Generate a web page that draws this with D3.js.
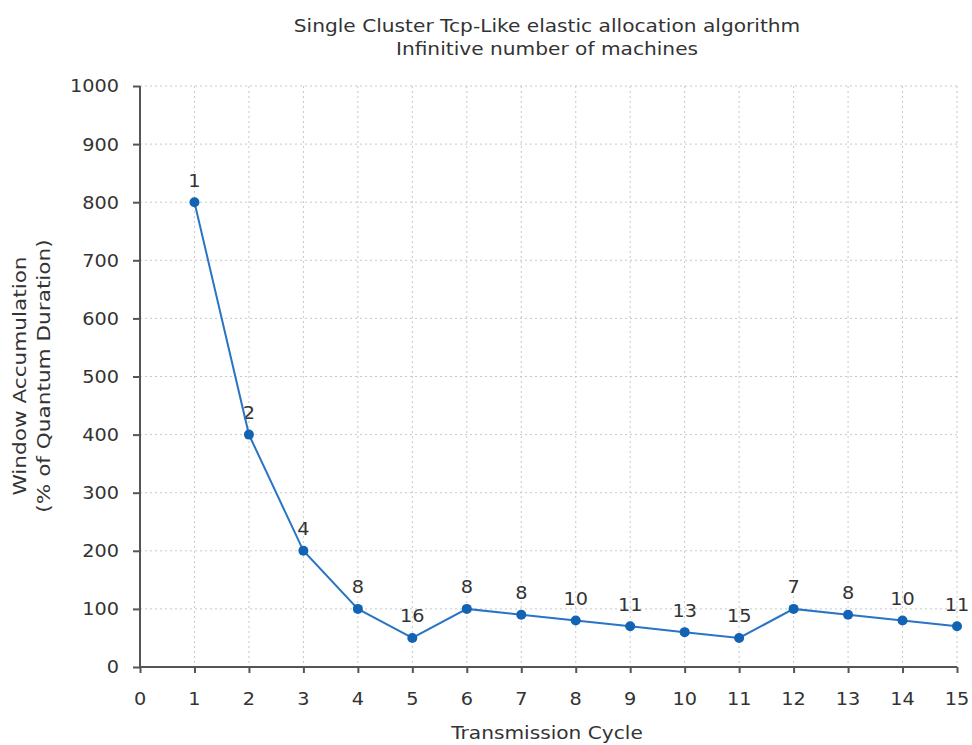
<!DOCTYPE html>
<html>
<head>
<meta charset="utf-8">
<script src="https://cdn.jsdelivr.net/npm/d3@7"></script>
<style>
  html, body { margin: 0; padding: 0; background: #fff; }
  svg { display: block; }
  text { font-family: "DejaVu Sans", sans-serif; fill: #333; }
</style>
</head>
<body>
<svg id="chart" width="972" height="745"></svg>
<script>
// ---- data ----
const cycles = [1, 2, 3, 4, 5, 6, 7, 8, 9, 10, 11, 12, 13, 14, 15];
const windowValues = [800, 400, 200, 100, 50, 100, 90, 80, 70, 60, 50, 100, 90, 80, 70];
const pointLabels = ["1", "2", "4", "8", "16", "8", "8", "10", "11", "13", "15", "7", "8", "10", "11"];
const xTicks = [0, 1, 2, 3, 4, 5, 6, 7, 8, 9, 10, 11, 12, 13, 14, 15];
const yTicks = [0, 100, 200, 300, 400, 500, 600, 700, 800, 900, 1000];
const titleLines = ["Single Cluster Tcp-Like elastic allocation algorithm", "Infinitive number of machines"];
const yLabelLines = ["Window Accumulation", "(% of Quantum Duration)"];
const xLabel = "Transmission Cycle";

// ---- layout ----
const plotLeft = 140, plotRight = 957, plotTop = 86, plotBottom = 667;
const svg = d3.select("#chart");
const x = d3.scaleLinear().domain([0, 15]).range([plotLeft, plotRight]);
const y = d3.scaleLinear().domain([0, 1000]).range([plotBottom, plotTop]);

function label(g, tx, ty, str, fs, anchor, sx, rotate) {
  // ty is the visual vertical centre of the text; sx stretches along the text
  const t = g.append("g")
    .attr("transform", `translate(${tx},${ty})` + (rotate ? " rotate(-90)" : "") + ` scale(${sx},1)`);
  t.append("text")
    .attr("x", 0).attr("y", fs * 0.36)
    .attr("text-anchor", anchor)
    .style("font-size", fs + "px")
    .text(str);
}

// grid
const grid = svg.append("g").attr("stroke", "#c8c8c8").attr("stroke-width", 1).attr("stroke-dasharray", "2,3");
grid.selectAll("line.h").data(yTicks.filter(d => d > 0)).join("line")
  .attr("x1", plotLeft).attr("x2", plotRight).attr("y1", d => y(d)).attr("y2", d => y(d));
grid.selectAll("line.v").data(xTicks.filter(d => d > 0)).join("line")
  .attr("x1", d => x(d)).attr("x2", d => x(d)).attr("y1", plotTop).attr("y2", plotBottom);

// axes
const axisColor = "#555";
const yAxis = svg.append("g").attr("transform", `translate(${plotLeft},0)`)
  .call(d3.axisLeft(y).tickValues(yTicks).tickSize(7).tickFormat(""));
const xAxis = svg.append("g").attr("transform", `translate(0,${plotBottom})`)
  .call(d3.axisBottom(x).tickValues(xTicks).tickSize(6).tickFormat(""));
[yAxis, xAxis].forEach(a => {
  a.select(".domain").attr("stroke", axisColor).attr("stroke-width", 2);
  a.selectAll(".tick line").attr("stroke", axisColor).attr("stroke-width", 2);
});
xAxis.select(".domain").attr("d", `M${plotLeft},0H${plotRight}`);
yAxis.select(".domain").attr("d", `M0,${plotBottom}V${plotTop}`);

const labels = svg.append("g");
yTicks.forEach(v => label(labels, 119, y(v), String(v), 18, "end", 1.07));
xTicks.forEach(v => label(labels, x(v), 699, String(v), 18, "middle", 1.07));

// line + points
svg.append("path")
  .datum(cycles.map((c, i) => [c, windowValues[i]]))
  .attr("fill", "none")
  .attr("stroke", "#2a74c4")
  .attr("stroke-width", 2)
  .attr("d", d3.line().x(d => x(d[0])).y(d => y(d[1])));
svg.append("g").selectAll("circle").data(cycles).join("circle")
  .attr("cx", d => x(d))
  .attr("cy", (d, i) => y(windowValues[i]))
  .attr("r", 5)
  .attr("fill", "#1263b3");
cycles.forEach((c, i) => label(labels, x(c), y(windowValues[i]) - 22, pointLabels[i], 18, "middle", 1.07));

// titles
label(labels, 547, 26, titleLines[0], 18, "middle", 1.12);
label(labels, 547, 49, titleLines[1], 18, "middle", 1.12);
label(labels, 547, 733, xLabel, 18, "middle", 1.12);
label(labels, 20, 376, yLabelLines[0], 18, "middle", 1.2, true);
label(labels, 44, 376, yLabelLines[1], 18, "middle", 1.2, true);
</script>
</body>
</html>
